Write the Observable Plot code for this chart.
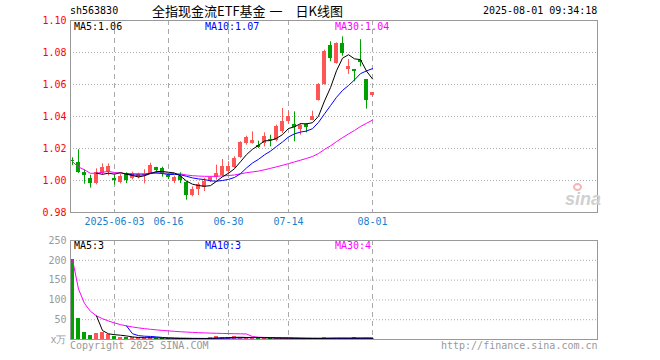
<!DOCTYPE html>
<html><head><meta charset="utf-8">
<script src="https://cdn.jsdelivr.net/npm/d3@7"></script>
<script src="https://cdn.jsdelivr.net/npm/@observablehq/plot@0.6"></script>
<style>
body{margin:0;background:#fff}
#wrap{position:relative;width:660px;height:360px;overflow:hidden;font-family:"DejaVu Sans Mono",monospace;font-size:10px}
#wrap svg{position:absolute;left:0}
.abs{position:absolute;white-space:nowrap;line-height:12px}
</style></head><body><div id="wrap"></div>
<script>
const dates = ["2025-05-22","2025-05-23","2025-05-26","2025-05-27","2025-05-28","2025-05-29","2025-05-30","2025-06-03","2025-06-04","2025-06-05","2025-06-06","2025-06-09","2025-06-10","2025-06-11","2025-06-12","2025-06-13","2025-06-16","2025-06-17","2025-06-18","2025-06-19","2025-06-20","2025-06-23","2025-06-24","2025-06-25","2025-06-26","2025-06-27","2025-06-30","2025-07-01","2025-07-02","2025-07-03","2025-07-04","2025-07-07","2025-07-08","2025-07-09","2025-07-10","2025-07-11","2025-07-14","2025-07-15","2025-07-16","2025-07-17","2025-07-18","2025-07-21","2025-07-22","2025-07-23","2025-07-24","2025-07-25","2025-07-28","2025-07-29","2025-07-30","2025-07-31","2025-08-01"];
const open  = [1.0125,1.0111,1.0052,1.0015,0.9979,1.0042,1.0054,1.0015,0.9985,1.0044,1.0010,1.0019,1.0033,1.0042,1.0079,1.0073,1.0031,0.9996,1.0027,0.9985,0.9908,0.9946,0.9956,0.9992,1.0017,1.0033,1.0054,1.0081,1.0144,1.0231,1.0231,1.0221,1.0231,1.0254,1.0252,1.0304,1.0367,1.0352,1.0319,1.0348,1.0377,1.0502,1.0600,1.0846,1.0731,1.0856,1.0696,1.0694,1.0752,1.0631,1.0529];
const high  = [1.0142,1.0192,1.0067,1.0033,1.0073,1.0104,1.0104,1.0031,1.0040,1.0048,1.0052,1.0046,1.0067,1.0108,1.0083,1.0083,1.0044,1.0027,1.0048,0.9992,0.9960,0.9985,1.0013,1.0023,1.0096,1.0131,1.0117,1.0148,1.0242,1.0277,1.0304,1.0246,1.0298,1.0283,1.0346,1.0450,1.0433,1.0429,1.0356,1.0356,1.0433,1.0606,1.0815,1.0867,1.0860,1.0898,1.0756,1.0694,1.0880,1.0631,1.0548];
const low   = [1.0094,1.0044,0.9977,0.9952,0.9973,1.0033,1.0029,0.9971,0.9979,0.9981,1.0004,1.0010,0.9979,1.0038,1.0042,1.0021,1.0006,0.9981,0.9981,0.9877,0.9898,0.9906,0.9931,0.9988,1.0002,1.0023,1.0044,1.0075,1.0138,1.0221,1.0227,1.0200,1.0210,1.0210,1.0242,1.0294,1.0352,1.0242,1.0283,1.0298,1.0373,1.0496,1.0596,1.0742,1.0727,1.0777,1.0663,1.0617,1.0710,1.0446,1.0523];
const close = [1.0117,1.0052,1.0031,0.9979,1.0050,1.0081,1.0088,1.0000,1.0027,1.0000,1.0042,1.0040,1.0040,1.0094,1.0065,1.0042,1.0017,1.0017,0.9998,0.9908,0.9944,0.9975,0.9996,1.0017,1.0044,1.0085,1.0085,1.0137,1.0235,1.0267,1.0252,1.0206,1.0277,1.0248,1.0335,1.0367,1.0398,1.0331,1.0346,1.0329,1.0402,1.0600,1.0808,1.0763,1.0856,1.0794,1.0710,1.0679,1.0738,1.0498,1.0548];
const volume = [202,53,18,11,14,17,12,7,4,5,5,4,4,5,3,3,2,2,2,2.5,2,2.5,3,4,7,4,5,7,5,5,4,4,3.5,3,2.5,3,3.5,2.5,2,2,2.5,3,4,3.5,3,3,2.5,4.5,3,3.5,2];
const tickDates = ["2025-06-03","2025-06-16","2025-06-30","2025-07-14","2025-08-01"];
const tickLabels = ["2025-06-03","06-16","06-30","07-14","08-01"];
const priceTicks = [0.98,1.00,1.02,1.04,1.06,1.08,1.10];
const priceGrid = [1.00,1.02,1.04,1.06,1.08];
const volTicks = [0,50,100,150,200,250];
const volGrid = [50,100,150,200];

const RED = "#ff5555", GREEN = "#00a000";
function ma(arr, n, partial) {
  return arr.map((_, i) => {
    if (i < n - 1 && !partial) return NaN;
    const s = Math.max(0, i - n + 1);
    let sum = 0; for (let k = s; k <= i; k++) sum += arr[k];
    return sum / (i - s + 1);
  });
}
const pm5 = ma(close,5,false), pm10 = ma(close,10,false), pm30 = ma(close,30,true);
const vm5 = ma(volume,5,false), vm10 = ma(volume,10,false), vm30 = ma(volume,30,true);
const rows = dates.map((d,i)=>({i, date:d, open:open[i], high:high[i], low:low[i], close:close[i], vol:volume[i],
  col: close[i] >= open[i] ? RED : GREEN, pm5:pm5[i], pm10:pm10[i], pm30:pm30[i], vm5:vm5[i], vm10:vm10[i], vm30:vm30[i]}));
const tickIdx = tickDates.map(d => dates.indexOf(d));
const labelOf = new Map(tickIdx.map((t,k)=>[t, tickLabels[k]]));
const xDomain = [-1/3, 87.5];
const font = {fontFamily:"DejaVu Sans Mono, monospace", fontSize:"10px", background:"transparent", overflow:"visible"};
const half = 0.36;

const price = Plot.plot({
  width:660, height:230, marginLeft:70, marginRight:63, marginTop:20, marginBottom:18,
  style:font,
  x:{type:"linear", domain:xDomain},
  y:{domain:[0.98,1.10]},
  marks:[
    Plot.ruleY(priceGrid, {stroke:"#aaa", strokeDasharray:"1,2"}),
    Plot.ruleX(tickIdx, {stroke:"#aaa", strokeDasharray:"5,4"}),
    Plot.ruleX(rows, {x:"i", y1:"low", y2:"high", stroke:"col"}),
    Plot.rect(rows, {x1:d=>d.i-half, x2:d=>d.i+half, y1:"open", y2:"close", fill:"col", shapeRendering:"crispEdges"}),
    Plot.line(rows, {x:"i", y:"pm30", stroke:"#ff00ff", strokeWidth:1}),
    Plot.line(rows, {x:"i", y:"pm10", stroke:"#0000ff", strokeWidth:1}),
    Plot.line(rows, {x:"i", y:"pm5", stroke:"#000", strokeWidth:1}),
    Plot.frame({stroke:"#999"}),
    Plot.axisY(priceTicks, {tickSize:0, tickPadding:4, fill:"#ff0000", label:null, tickFormat:d=>d.toFixed(2)}),
    Plot.axisX(tickIdx, {tickSize:0, tickPadding:5, fill:"#1a7fcf", label:null, tickFormat:d=>labelOf.get(d)})
  ]
});
price.style.top = "0px";

const vol = Plot.plot({
  width:660, height:130, marginLeft:70, marginRight:63, marginTop:10, marginBottom:21,
  style:font,
  x:{type:"linear", domain:xDomain, axis:null},
  y:{domain:[0,250]},
  marks:[
    Plot.ruleY(volGrid, {stroke:"#aaa", strokeDasharray:"1,2"}),
    Plot.ruleX(tickIdx, {stroke:"#aaa", strokeDasharray:"5,4"}),
    Plot.rect(rows, {x1:d=>d.i-0.4, x2:d=>d.i+0.4, y1:0, y2:"vol", fill:"col", shapeRendering:"crispEdges"}),
    Plot.line(rows, {x:"i", y:"vm30", stroke:"#ff00ff", strokeWidth:1}),
    Plot.line(rows, {x:"i", y:"vm10", stroke:"#0000ff", strokeWidth:1}),
    Plot.line(rows, {x:"i", y:"vm5", stroke:"#000", strokeWidth:1}),
    Plot.frame({stroke:"#999"}),
    Plot.axisY(volTicks, {tickSize:0, tickPadding:4, fill:"#999", label:null, tickFormat:d=>d===0?"x万":String(d)})
  ]
});
vol.style.top = "230px";

const wrap = document.getElementById("wrap");
wrap.appendChild(price);
wrap.appendChild(vol);
const last = rows.length - 1;
function addText(txt, left, top, color, extra) {
  const d = document.createElement("div");
  d.className = "abs"; d.textContent = txt;
  d.style.left = left + "px"; d.style.top = top + "px"; d.style.color = color;
  if (extra) Object.assign(d.style, extra);
  wrap.appendChild(d); return d;
}
addText("sh563830", 70, 5, "#000");
addText("全指现金流ETF基金 一　日K线图", 152, 3, "#000", {fontFamily:"'Noto Sans CJK SC'", fontSize:"13px", lineHeight:"16px", wordSpacing:"1px"});
addText(dates[last] + " 09:34:18", 483, 5, "#000");
addText("MA5:" + pm5[last].toFixed(2), 74, 21, "#000");
addText("MA10:" + pm10[last].toFixed(2), 205, 21, "#0000ff");
addText("MA30:" + pm30[last].toFixed(2), 335, 21, "#ff00ff");
addText("MA5:" + vm5[last].toFixed(0), 74, 240, "#000");
addText("MA10:" + vm10[last].toFixed(0), 205, 240, "#0000ff");
addText("MA30:" + vm30[last].toFixed(0), 335, 240, "#ff00ff");
addText("Copyright 2025 SINA.COM", 70, 340, "#999");
addText("http://finance.sina.com.cn", 441, 340, "#999");
addText("sina", 565, 190, "#d0d0d0", {fontFamily:"'Liberation Sans'", fontStyle:"italic", fontWeight:"bold", fontSize:"18px", lineHeight:"18px"});
const eye = document.createElement("div");
Object.assign(eye.style, {position:"absolute", left:"573px", top:"183px", width:"9px", height:"8px", border:"2px solid #f7b5b5", borderRadius:"50%", boxSizing:"border-box"});
wrap.appendChild(eye);
</script>
</body></html>
